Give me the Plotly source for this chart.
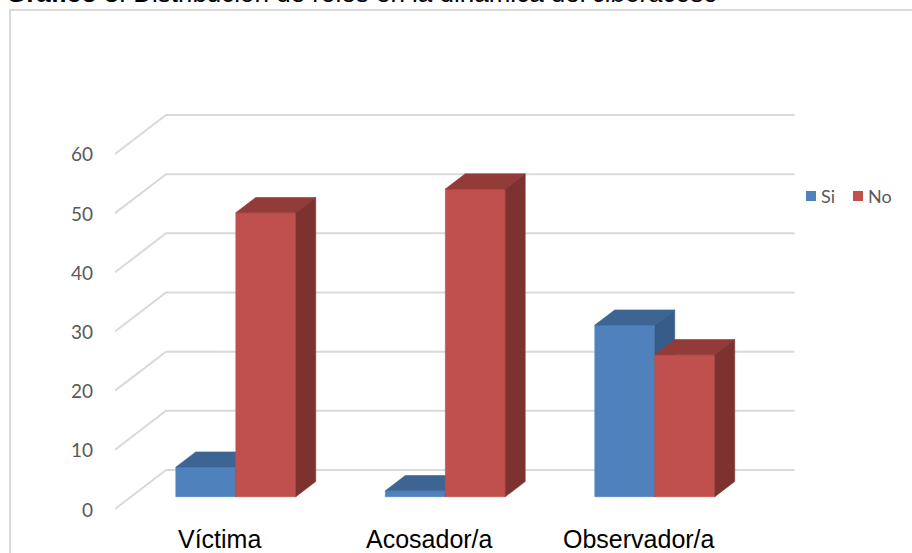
import plotly.graph_objects as go

# ---------------- data ----------------
categories = ["Víctima", "Acosador/a", "Observador/a"]
series_names = ["Si", "No"]
si_values = [5, 1, 29]
no_values = [48, 52, 24]
y_ticks = [0, 10, 20, 30, 40, 50, 60]
title_bold = "Gráfico 3"
title_plain = ": Distribución de roles en la dinámica del "
title_italic = "ciberacoso"

# ---------------- geometry / style ----------------
W, H = 912, 553
PX_PER_CAT = 209.5          # pixels per category unit
PX_PER_VAL = 5.917          # pixels per value unit
BACK_X0 = 270.75            # pixel x of first category centre on back wall
BACK_Y0 = 470.0             # pixel y of value 0 on back wall
DX = -51 / PX_PER_CAT       # oblique depth vector (full wall depth), x units
DY = -39 / PX_PER_VAL       # oblique depth vector, value units
BAR_W = 60 / PX_PER_CAT
D_FRONT = 0.685
D_BACK = D_FRONT - 0.39

front_cols = ["#4F81BD", "#C0504D"]
top_cols = ["#3C6593", "#923B39"]
side_cols = ["#375C89", "#7E3230"]
grid_col = "#D9D9D9"
tick_col = "#595959"

xr = [-BACK_X0 / PX_PER_CAT, (W - BACK_X0) / PX_PER_CAT]
yr = [-(H - BACK_Y0) / PX_PER_VAL, BACK_Y0 / PX_PER_VAL]


def proj(x, v, d):
    return x + d * DX, v + d * DY


fig = go.Figure()

# ---------------- walls / gridlines ----------------
gx, gy = [], []
n = len(categories)
for t in y_ticks:
    p_front = proj(-0.5, t, 1.0)
    p_back_l = proj(-0.5, t, 0.0)
    p_back_r = proj(n - 0.5, t, 0.0)
    for p in (p_front, p_back_l, p_back_r):
        gx.append(p[0]); gy.append(p[1])
    gx.append(None); gy.append(None)
fig.add_trace(go.Scatter(x=gx, y=gy, mode="lines",
                         line=dict(color=grid_col, width=2),
                         hoverinfo="skip", showlegend=False))

# ---------------- 3D bars ----------------
all_values = [si_values, no_values]
for s, vals in enumerate(all_values):
    faces = {"front": ([], []), "top": ([], []), "side": ([], [])}
    for i, h in enumerate(vals):
        xl = i + (s - 1) * BAR_W
        xrr = xl + BAR_W
        polys = {
            "front": [(xl, 0, D_FRONT), (xrr, 0, D_FRONT), (xrr, h, D_FRONT), (xl, h, D_FRONT)],
            "top": [(xl, h, D_FRONT), (xrr, h, D_FRONT), (xrr, h, D_BACK), (xl, h, D_BACK)],
            "side": [(xrr, 0, D_FRONT), (xrr, h, D_FRONT), (xrr, h, D_BACK), (xrr, 0, D_BACK)],
        }
        for k, pts in polys.items():
            for (a, b, c) in pts + [pts[0]]:
                px, py = proj(a, b, c)
                faces[k][0].append(px); faces[k][1].append(py)
            faces[k][0].append(None); faces[k][1].append(None)
    for k, col in (("front", front_cols[s]), ("top", top_cols[s]), ("side", side_cols[s])):
        fig.add_trace(go.Scatter(x=faces[k][0], y=faces[k][1], mode="lines",
                                 fill="toself", fillcolor=col,
                                 line=dict(color=col, width=0.6),
                                 name=series_names[s], hoverinfo="skip",
                                 showlegend=False))

# ---------------- annotations ----------------
ann = []
for t in y_ticks:
    ax, ay = proj(-0.5, t, 1.0)
    ann.append(dict(x=ax, y=ay, xref="x", yref="y", text=str(t), showarrow=False,
                    xanchor="right", yanchor="middle", xshift=-20,
                    font=dict(family="Lato, Open Sans, sans-serif", size=19, color=tick_col)))
for i, c in enumerate(categories):
    ax, ay = proj(i, 0, 1.0)
    ann.append(dict(x=ax, y=ay, xref="x", yref="y", text=c, showarrow=False,
                    xanchor="center", yanchor="middle", yshift=-30,
                    font=dict(family="Liberation Sans, Arial, sans-serif", size=25, color="#000000")))

ann.append(dict(x=4 / W, y=1 - 10 / H, xref="paper", yref="paper",
                text=f"<b>{title_bold}</b>{title_plain}<i>{title_italic}</i>",
                showarrow=False, xanchor="left", yanchor="bottom",
                font=dict(family="Liberation Sans, Arial, sans-serif", size=26, color="#000000")))

# manual legend
shapes = []
leg_y = 196
leg_items_x = [806, 853]
for s, name in enumerate(series_names):
    x0 = leg_items_x[s]
    shapes.append(dict(type="rect", xref="paper", yref="paper",
                       x0=x0 / W, x1=(x0 + 10) / W,
                       y0=1 - (leg_y + 5) / H, y1=1 - (leg_y - 5) / H,
                       fillcolor=front_cols[s], line=dict(width=0)))
    ann.append(dict(x=(x0 + 13) / W, y=1 - leg_y / H, xref="paper", yref="paper",
                    text=name, showarrow=False, xanchor="left", yanchor="middle",
                    font=dict(family="Lato, Open Sans, sans-serif", size=18, color=tick_col)))

# chart border
shapes.append(dict(type="rect", xref="paper", yref="paper",
                   x0=10 / W, x1=(W + 5) / W, y0=-0.05, y1=1 - 10 / H,
                   line=dict(color=grid_col, width=2), fillcolor="rgba(0,0,0,0)", layer="below"))

fig.update_layout(
    width=W, height=H,
    margin=dict(l=0, r=0, t=0, b=0),
    paper_bgcolor="white", plot_bgcolor="white",
    xaxis=dict(range=xr, visible=False, fixedrange=True),
    yaxis=dict(range=yr, visible=False, fixedrange=True),
    annotations=ann, shapes=shapes,
    showlegend=False,
)

fig.write_html("out.html")
